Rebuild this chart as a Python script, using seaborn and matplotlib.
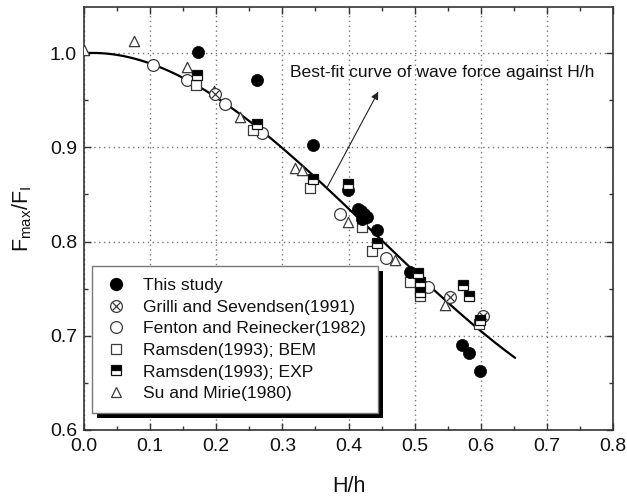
import numpy as np
import matplotlib
matplotlib.use("Agg")
import matplotlib.pyplot as plt
import seaborn as sns
from matplotlib.lines import Line2D
from matplotlib.patches import Rectangle
from matplotlib.legend_handler import HandlerTuple
from matplotlib.ticker import MultipleLocator

# ---------------- data ----------------
this_x = [0.172, 0.261, 0.346, 0.399, 0.414, 0.419, 0.424, 0.421, 0.428, 0.443, 0.493, 0.571, 0.582, 0.599]
this_y = [1.001, 0.971, 0.903, 0.855, 0.835, 0.832, 0.829, 0.824, 0.826, 0.812, 0.768, 0.690, 0.682, 0.663]

grilli_x = [0.198, 0.553, 0.603]
grilli_y = [0.957, 0.741, 0.721]

fenton_x = [0.104, 0.156, 0.213, 0.269, 0.387, 0.457, 0.520]
fenton_y = [0.987, 0.972, 0.946, 0.915, 0.829, 0.783, 0.752]

bem_x = [0.169, 0.256, 0.342, 0.420, 0.436, 0.493, 0.508, 0.597]
bem_y = [0.966, 0.918, 0.857, 0.816, 0.790, 0.757, 0.742, 0.713]

exp_x = [0.171, 0.261, 0.346, 0.399, 0.443, 0.505, 0.508, 0.508, 0.573, 0.582, 0.599]
exp_y = [0.977, 0.925, 0.866, 0.861, 0.799, 0.767, 0.757, 0.746, 0.754, 0.742, 0.717]

su_x = [0.0, 0.076, 0.156, 0.196, 0.236, 0.319, 0.329, 0.399, 0.470, 0.546]
su_y = [1.003, 1.013, 0.985, 0.960, 0.932, 0.878, 0.876, 0.821, 0.780, 0.733]

# best-fit curve: polynomial coefficients (ascending powers) and H/h range
fit_coef = [1.0, 0.041, -1.625, 1.229]
fit_range = [0.0, 0.652]

labels = ["This study", "Grilli and Sevendsen(1991)", "Fenton and Reinecker(1982)",
          "Ramsden(1993); BEM", "Ramsden(1993); EXP", "Su and Mirie(1980)"]
x_ticks = [0.0, 0.1, 0.2, 0.3, 0.4, 0.5, 0.6, 0.7, 0.8]
y_ticks = [0.6, 0.7, 0.8, 0.9, 1.0]
annot_text = "Best-fit curve of wave force against H/h"

# ---------------- style ----------------
sns.set_theme(style="ticks")
plt.rcParams["font.family"] = ["Liberation Sans", "DejaVu Sans"]
plt.rcParams["mathtext.default"] = "regular"

fig = plt.figure(figsize=(6.27, 5.0), dpi=100)
ax = fig.add_axes([84 / 627, 1 - 430 / 500, 529 / 627, 423 / 500])

EDGE = "#3a3a3a"

# curve
xc = np.linspace(fit_range[0], fit_range[1], 300)
yc = np.polynomial.polynomial.polyval(xc, fit_coef)
sns.lineplot(x=xc, y=yc, ax=ax, color="black", lw=1.6, estimator=None, sort=False, zorder=3)

# open markers
sns.scatterplot(x=su_x, y=su_y, ax=ax, marker="^", s=55, facecolor="white",
                edgecolor=EDGE, linewidth=0.9, zorder=4)
sns.scatterplot(x=fenton_x, y=fenton_y, ax=ax, marker="o", s=72, facecolor="white",
                edgecolor=EDGE, linewidth=0.9, zorder=4)
sns.scatterplot(x=bem_x, y=bem_y, ax=ax, marker="s", s=52, facecolor="white",
                edgecolor=EDGE, linewidth=0.9, zorder=4)
sns.scatterplot(x=grilli_x, y=grilli_y, ax=ax, marker="o", s=72, facecolor="white",
                edgecolor=EDGE, linewidth=0.9, zorder=4)
sns.scatterplot(x=grilli_x, y=grilli_y, ax=ax, marker="x", s=30, color=EDGE,
                linewidth=0.9, zorder=4.1)
# filled circles
sns.scatterplot(x=this_x, y=this_y, ax=ax, marker="o", s=76, color="black",
                edgecolor="black", linewidth=0.5, zorder=5)
# half-filled squares
sns.lineplot(x=exp_x, y=exp_y, ax=ax, estimator=None, sort=False, linestyle="none",
             marker="s", markersize=7.2, fillstyle="top", markerfacecolor="black",
             markerfacecoloralt="white", markeredgecolor="#111", markeredgewidth=0.9,
             zorder=6)

# axes
ax.set_xlim(0.0, 0.8)
ax.set_ylim(0.6, 1.049)
ax.set_xticks(x_ticks)
ax.set_yticks(y_ticks)
ax.set_xticklabels([f"{v:.1f}" for v in x_ticks])
ax.set_yticklabels([f"{v:.1f}" for v in y_ticks])
ax.xaxis.set_minor_locator(MultipleLocator(0.05))
ax.yaxis.set_minor_locator(MultipleLocator(0.05))
ax.tick_params(which="both", direction="in", top=True, right=True, color="#333",
               width=1.0)
ax.tick_params(which="major", length=5, labelsize=14, labelcolor="#111")
ax.tick_params(axis="x", which="major", pad=6)
ax.tick_params(axis="y", which="major", pad=5)
ax.tick_params(which="minor", length=3)
ax.grid(True, which="major", linestyle=(0, (1, 2.5)), color="#777", lw=1.0)
ax.set_axisbelow(True)
for sp in ax.spines.values():
    sp.set_color("#333")
    sp.set_linewidth(1.2)

ax.set_xlabel("H/h", fontsize=15.5, labelpad=15, color="#111")
ax.set_ylabel("F$_{max}$/F$_{I}$", fontsize=15.5, labelpad=11.5, color="#111")

# annotation
ax.text(0.312, 0.980, annot_text, fontsize=12.6, va="center", ha="left", color="#111")
ax.annotate("", xy=(0.445, 0.959), xytext=(0.368, 0.858),
            arrowprops=dict(arrowstyle="-|>", lw=0.8, color="#222", mutation_scale=11,
                            shrinkA=0, shrinkB=0), zorder=7)

# legend
h_this = Line2D([], [], ls="none", marker="o", ms=8.5, mfc="black", mec="black")
h_gc = Line2D([], [], ls="none", marker="o", ms=8.5, mfc="white", mec=EDGE, mew=0.9)
h_gx = Line2D([], [], ls="none", marker="x", ms=5.5, mec=EDGE, mew=0.9)
h_fen = Line2D([], [], ls="none", marker="o", ms=8.5, mfc="white", mec=EDGE, mew=0.9)
h_bem = Line2D([], [], ls="none", marker="s", ms=7.2, mfc="white", mec=EDGE, mew=0.9)
h_exp = Line2D([], [], ls="none", marker="s", ms=7.2, fillstyle="top", mfc="black",
               mfcalt="white", mec="#111", mew=0.9)
h_su = Line2D([], [], ls="none", marker="^", ms=7.4, mfc="white", mec=EDGE, mew=0.9)
leg = ax.legend([h_this, (h_gc, h_gx), h_fen, h_bem, h_exp, h_su], labels,
                loc="upper left", bbox_to_anchor=(0.015, 0.388), borderaxespad=0,
                frameon=True, fancybox=False, edgecolor="#777", framealpha=1,
                fontsize=12.6, labelspacing=0.36, borderpad=0.7, handlelength=1.4,
                handletextpad=0.81, handler_map={tuple: HandlerTuple(ndivide=1)})
leg.get_frame().set_linewidth(1.0)
for t in leg.get_texts():
    t.set_color("#111")
leg.set_zorder(10)

fig.canvas.draw()
bb = leg.get_window_extent().transformed(fig.transFigure.inverted())
dx, dy = 5 / 627, 5 / 500
shadow = Rectangle((bb.x0 + dx, bb.y0 - dy), bb.width, bb.height, transform=fig.transFigure,
                   facecolor="black", edgecolor="none", zorder=9)
ax.add_artist(shadow)
shadow.set_clip_on(False)

fig.savefig("out.png", dpi=100)
